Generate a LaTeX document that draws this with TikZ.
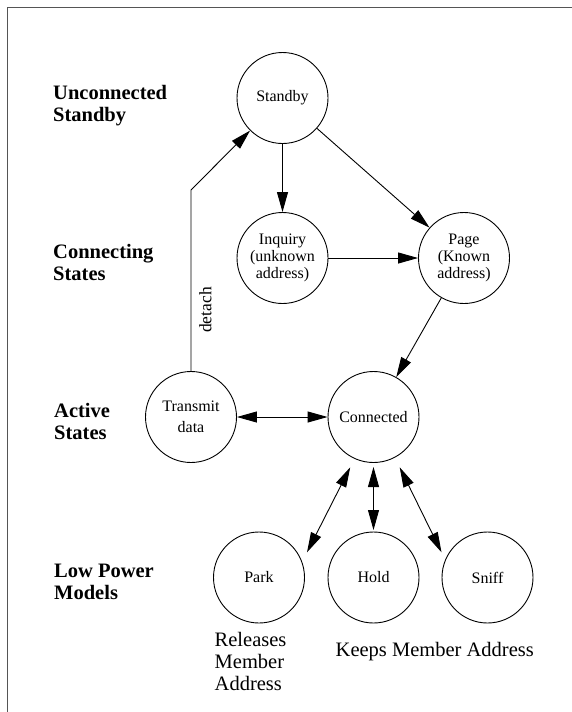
\documentclass[tikz,border=0pt]{standalone}
\usepackage{fontspec}
\setmainfont{Liberation Serif}
\usetikzlibrary{arrows.meta}
\begin{document}
\begin{tikzpicture}[x=1pt,y=-1pt,
  state/.style={circle,draw,line width=0.9pt,minimum size=91pt,inner sep=0pt,align=center,
    font=\fontsize{16}{17}\selectfont},
  lab/.style={anchor=base west,inner sep=0pt,align=left,font=\fontsize{20.5}{22}\selectfont\bfseries},
  note/.style={anchor=base west,inner sep=0pt,align=left,font=\fontsize{20.5}{22}\selectfont},
  conn/.style={line width=0.9pt,-{Triangle[length=20pt,width=11pt]}},
  biconn/.style={line width=0.9pt,{Triangle[length=20pt,width=11pt]}-{Triangle[length=20pt,width=11pt]}},
  frame/.style={line width=1.6pt,draw={rgb,255:red,85;green,85;blue,85}}]
\useasboundingbox (0,0) rectangle (572,712);
\draw[frame] (7.5,712) -- (7.5,7.5) -- (572,7.5);

% left labels (anchor at baseline of the last line)
\node[lab] (l1) at (53,121) {Unconnected\\Standby};
\node[lab] (l2) at (53,280) {Connecting\\States};
\node[lab] (l3) at (54,439.5) {Active\\States};
\node[lab] (l4) at (54,599.5) {Low Power\\Models};

% states
\node[state] (sb) at (282.5,98) {Standby};
\node[state] (inq) at (282.5,258) {Inquiry\\(unknown\\address)};
\node[state] (pg) at (464,258) {Page\\(Known\\address)};
\node[state,font=\fontsize{16}{21}\selectfont] (tx) at (191,417) {Transmit\\data};
\node[state] (cn) at (373.5,417) {Connected};
\node[state] (pk) at (259,577.5) {Park};
\node[state] (hd) at (373.5,577.5) {Hold};
\node[state] (sn) at (487.5,577.5) {Sniff};

% connectors
\draw[conn] (sb) -- (inq);
\draw[conn] (sb) -- (pg);
\draw[conn] (inq) -- (pg);
\draw[conn] (pg) -- (cn);
\draw[biconn] (tx) -- (cn);
\coordinate (bend) at (191,190);
\draw[conn] (tx.north) -- (bend) -- (sb);
\node[rotate=90,anchor=north,inner sep=0pt,font=\fontsize{17.5}{18}\selectfont] (det) at (199,310) {detach};

\coordinate (pk1) at (350.2,467.3);
\coordinate (pk2) at (307,552.3);
\coordinate (hd1) at (373.5,467);
\coordinate (hd2) at (373.5,530);
\coordinate (sn1) at (399.7,467.3);
\coordinate (sn2) at (441.5,552.3);
\draw[biconn] (pk1) -- (pk2);
\draw[biconn] (hd1) -- (hd2);
\draw[biconn] (sn1) -- (sn2);

% notes
\node[note] (rel) at (214.5,690.7) {Releases\\Member\\Address};
\node[note] (keep) at (335.5,656.7) {Keeps Member Address};
\end{tikzpicture}
\end{document}
